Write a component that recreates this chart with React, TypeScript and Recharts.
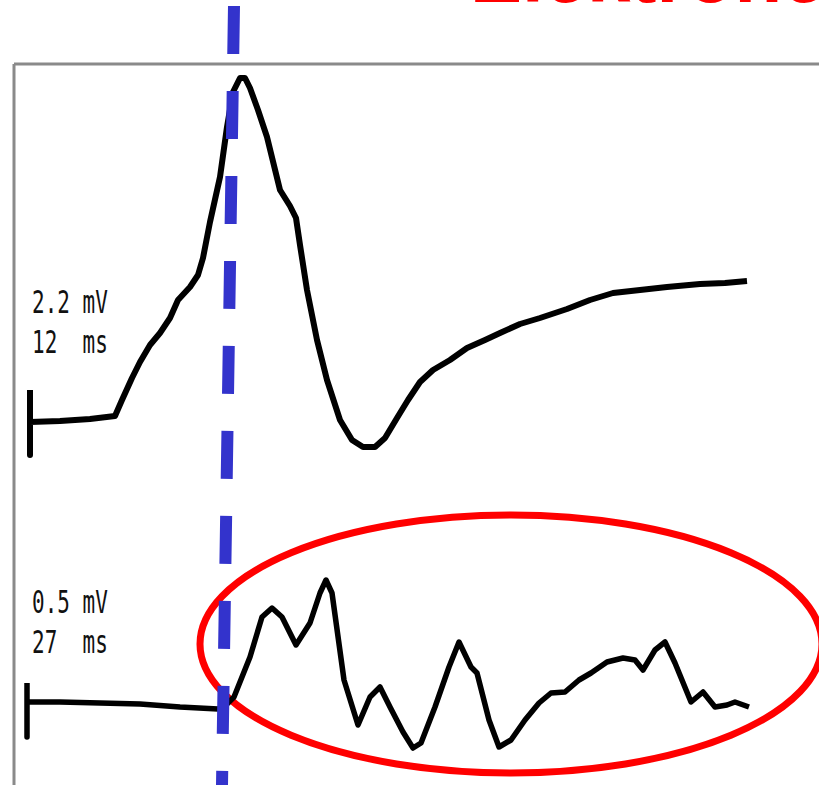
import React from 'react'
import { LineChart, Line, XAxis, YAxis, ReferenceLine, ReferenceArea } from 'recharts'

// upper trace (muscle response), time / amplitude in chart units
const upperTime = [1.6, 1.6, 1.6, 4.6, 7.6, 10.1, 10.8, 11.8, 12.6, 13.6, 14.6, 15.6, 16.4, 17.6, 18.4, 18.9, 19.6, 20.6, 21.3, 21.9, 22.6, 23.1, 23.6, 24.4, 25.3, 26.6, 27.6, 28.2, 28.6, 29.3, 30.3, 31.3, 32.6, 33.8, 34.9, 36.1, 37.1, 38.3, 39.4, 40.6, 41.9, 43.6, 45.3, 47.1, 48.6, 50.6, 52.6, 55.3, 57.6, 59.9, 62.6, 65.3, 68.6, 71.1, 73.3]
const upperAmp = [39.5, 33.0, 36.3, 36.4, 36.6, 36.9, 38.5, 40.7, 42.3, 44.0, 45.2, 46.7, 48.5, 49.8, 51.0, 52.7, 56.3, 60.8, 65.8, 69.3, 70.7, 70.7, 69.7, 67.5, 64.8, 59.5, 57.9, 56.7, 54.0, 49.5, 44.5, 40.5, 36.5, 34.5, 33.8, 33.8, 34.7, 36.7, 38.5, 40.3, 41.5, 42.5, 43.7, 44.5, 45.2, 46.1, 46.7, 47.6, 48.5, 49.2, 49.5, 49.8, 50.1, 50.2, 50.4]

// lower trace (nerve response)
const lowerTime = [1.3, 1.3, 1.3, 4.6, 8.6, 12.6, 16.6, 20.4, 21.2, 22.0, 23.6, 24.8, 25.8, 26.8, 28.2, 29.6, 30.6, 31.2, 31.8, 33.0, 34.4, 35.6, 36.6, 37.6, 38.9, 39.9, 40.7, 42.1, 43.5, 44.5, 45.7, 46.3, 47.5, 48.5, 49.7, 51.1, 52.5, 53.7, 55.1, 56.5, 57.7, 59.3, 60.9, 62.1, 62.9, 64.1, 65.1, 66.1, 67.7, 68.9, 70.1, 71.3, 72.1, 73.5]
const lowerAmp = [10.2, 4.8, 8.3, 8.3, 8.2, 8.1, 7.8, 7.6, 8.0, 8.8, 12.8, 16.8, 17.7, 16.8, 14.0, 16.2, 19.2, 20.5, 19.2, 10.5, 6.0, 8.8, 9.8, 7.8, 5.3, 3.7, 4.2, 7.8, 11.8, 14.3, 11.8, 11.2, 6.5, 3.8, 4.5, 6.5, 8.2, 9.2, 9.3, 10.5, 11.2, 12.3, 12.7, 12.5, 11.5, 13.5, 14.3, 12.2, 8.3, 9.3, 7.8, 8.0, 8.3, 7.8]

// axis ranges, onset marker (dashed) and highlight region
const timeRange = [0, 80.5]
const ampRange = [0, 72.1]
const markerTime = [22.0, 20.8]
const markerAmp = [77.9, 0]
const highlightTime = [18.6, 80.8]
const highlightAmp = [1.2, 27.0]

const upperLabel = ['2.2 mV', '12  ms']
const lowerLabel = ['0.5 mV', '27  ms']
const title = 'Elektroneurographie'

const upperData = upperTime.map((t, i) => ({ t, v: upperAmp[i] }))
const lowerData = lowerTime.map((t, i) => ({ t, v: lowerAmp[i] }))

const Ellipse = (props: any) => {
  const { x, y, width, height } = props
  return (
    <ellipse
      cx={x + width / 2}
      cy={y + height / 2}
      rx={width / 2}
      ry={height / 2}
      fill="none"
      stroke="#ff0000"
      strokeWidth={7}
    />
  )
}

const ScaleText = ({ x, y, lines }: { x: number; y: number; lines: string[] }) => (
  <g>
    {lines.map((s, i) => (
      <text
        key={i}
        transform={`translate(${x},${y + i * 40}) scale(1,1.5)`}
        fontFamily="DejaVu Sans Mono"
        fontSize={21}
        fill="#111"
        style={{ whiteSpace: 'pre' }}
      >
        {s}
      </text>
    ))}
  </g>
)

export default function App() {
  return (
    <div style={{ position: 'absolute', left: 0, top: 0, width: 819, height: 785, overflow: 'hidden', background: '#fff' }}>
      <LineChart width={819} height={785} margin={{ top: 64, left: 14, right: 0, bottom: 0 }}>
        <XAxis type="number" dataKey="t" domain={timeRange} allowDataOverflow hide />
        <YAxis type="number" dataKey="v" domain={ampRange} allowDataOverflow hide />
        {/* frame: top and left edges */}
        <ReferenceLine y={ampRange[1]} stroke="#8a8a8a" strokeWidth={3} ifOverflow="visible" />
        <ReferenceLine x={timeRange[0]} stroke="#8a8a8a" strokeWidth={3} ifOverflow="visible" />
        <Line data={upperData} dataKey="v" type="linear" stroke="#000" strokeWidth={6} strokeLinejoin="round" dot={false} isAnimationActive={false} />
        <Line data={lowerData} dataKey="v" type="linear" stroke="#000" strokeWidth={5.5} strokeLinejoin="round" dot={false} isAnimationActive={false} />
        <ReferenceLine
          segment={[
            { x: markerTime[0], y: markerAmp[0] },
            { x: markerTime[1], y: markerAmp[1] },
          ]}
          stroke="#3333cc"
          strokeWidth={12}
          strokeDasharray="48 37"
          ifOverflow="visible"
        />
        <ReferenceArea
          x1={highlightTime[0]}
          x2={highlightTime[1]}
          y1={highlightAmp[0]}
          y2={highlightAmp[1]}
          ifOverflow="visible"
          shape={Ellipse}
        />
      </LineChart>
      <svg width={819} height={785} style={{ position: 'absolute', left: 0, top: 0, pointerEvents: 'none' }}>
        <text x={470} y={2} fontFamily="Liberation Sans" fontWeight="bold" fontSize={78} fill="#ff0000">
          {title}
        </text>
        <ScaleText x={32} y={313} lines={upperLabel} />
        <ScaleText x={32} y={613} lines={lowerLabel} />
      </svg>
    </div>
  )
}
